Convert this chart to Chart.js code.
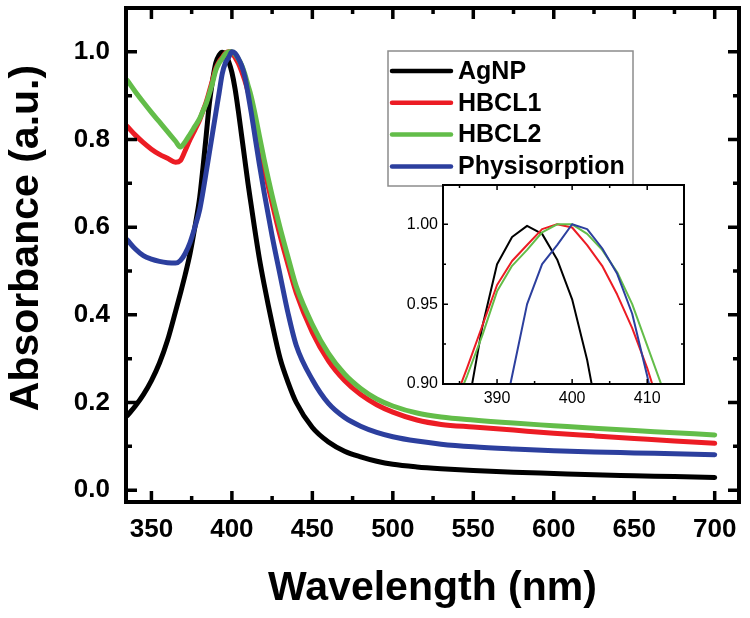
<!DOCTYPE html>
<html>
<head>
<meta charset="utf-8">
<script src="https://cdn.jsdelivr.net/npm/chart.js@4.4.0/dist/chart.umd.min.js"></script>
<style>
  html, body { margin: 0; padding: 0; background: #fff; }
  #wrap { position: relative; width: 750px; height: 618px; }
  #main { position: absolute; left: 0; top: 0; }
  #inset { position: absolute; left: 395px; top: 178px; }
</style>
</head>
<body>
<div id="wrap">
  <canvas id="main" width="750" height="618"></canvas>
  <canvas id="inset" width="300" height="235"></canvas>
</div>
<script>
//// data
const wavelength = [335, 340, 345, 350, 355, 360, 365, 368, 371, 374, 377, 380, 382, 384, 386, 388, 390, 392, 394, 396,
  398, 400, 402, 404, 406, 408, 410, 412, 414, 417, 420, 425, 430, 435, 440, 450, 460, 470, 480, 490,
  500, 515, 530, 550, 575, 600, 625, 650, 675, 700];

const agnp = [0.170, 0.192, 0.218, 0.250, 0.290, 0.342, 0.408, 0.449, 0.492, 0.540, 0.600, 0.668, 0.735, 0.808, 0.882, 0.935, 0.975, 0.992, 0.999, 0.994,
  0.978, 0.953, 0.915, 0.865, 0.810, 0.755, 0.700, 0.650, 0.600, 0.530, 0.470, 0.380, 0.300, 0.245, 0.200, 0.143, 0.110, 0.089, 0.076, 0.066,
  0.059, 0.053, 0.049, 0.045, 0.041, 0.038, 0.035, 0.033, 0.031, 0.029];

const hbcl1 = [0.830, 0.810, 0.793, 0.778, 0.766, 0.757, 0.748, 0.752, 0.775, 0.800, 0.822, 0.845, 0.865, 0.885, 0.910, 0.936, 0.962, 0.977, 0.987, 0.997,
  1.000, 0.998, 0.987, 0.974, 0.956, 0.935, 0.910, 0.880, 0.845, 0.790, 0.735, 0.655, 0.580, 0.513, 0.450, 0.360, 0.295, 0.250, 0.218, 0.195,
  0.178, 0.160, 0.150, 0.144, 0.137, 0.130, 0.124, 0.118, 0.112, 0.107];

const hbcl2 = [0.935, 0.909, 0.885, 0.862, 0.840, 0.818, 0.796, 0.783, 0.795, 0.812, 0.830, 0.848, 0.865, 0.882, 0.905, 0.930, 0.958, 0.974, 0.984, 0.995,
  1.000, 1.000, 0.994, 0.984, 0.970, 0.950, 0.924, 0.898, 0.865, 0.810, 0.755, 0.672, 0.598, 0.530, 0.465, 0.378, 0.312, 0.265, 0.232, 0.208,
  0.192, 0.176, 0.167, 0.160, 0.153, 0.147, 0.141, 0.136, 0.131, 0.126];

const physisorption = [0.571, 0.550, 0.535, 0.527, 0.522, 0.519, 0.518, 0.524, 0.540, 0.565, 0.600, 0.640, 0.680, 0.725, 0.770, 0.815, 0.860, 0.905, 0.950, 0.975,
  0.987, 1.000, 0.997, 0.985, 0.969, 0.944, 0.905, 0.862, 0.815, 0.745, 0.680, 0.580, 0.490, 0.402, 0.330, 0.252, 0.198, 0.166, 0.146, 0.132,
  0.122, 0.112, 0.105, 0.099, 0.094, 0.090, 0.087, 0.085, 0.083, 0.081];

const seriesNames = ['AgNP', 'HBCL1', 'HBCL2', 'Physisorption'];
const seriesValues = [agnp, hbcl1, hbcl2, physisorption];
const seriesColors = ['#000000', '#ec1c24', '#63bd49', '#2c3f9e'];

const xTicks = [350, 400, 450, 500, 550, 600, 650, 700];
const xMinor = [375, 425, 475, 525, 575, 625, 675];
const yTicks = [0, 0.2, 0.4, 0.6, 0.8, 1.0];
const yMinor = [0.1, 0.3, 0.5, 0.7, 0.9];

const insetXTicks = [390, 400, 410];
const insetXMinor = [385, 395, 405];
const insetYTicks = [0.90, 0.95, 1.00];
const insetYMinor = [0.925, 0.975];

const xTitle = 'Wavelength (nm)';
const yTitle = 'Absorbance (a.u.)';

const FONT = '"Liberation Sans", Arial, Helvetica, sans-serif';
Chart.defaults.font.family = FONT;
Chart.defaults.color = '#000';

function makeDatasets(width, tension) {
  return seriesValues.map((vals, i) => ({
    label: seriesNames[i],
    data: wavelength.map((w, j) => ({ x: w, y: vals[j] })),
    borderColor: seriesColors[i],
    borderWidth: width,
    pointRadius: 0,
    fill: false,
    tension: tension,
    cubicInterpolationMode: tension ? 'monotone' : 'default',
    borderCapStyle: 'round',
    borderJoinStyle: 'round',
    order: 4 - i
  }));
}

// axis boxes get a fixed size and no label overhang, so the plot frame lands where the figure has it
function fixBox(size, horizontal) {
  return s => {
    if (horizontal) s.height = size; else s.width = size;
    s.paddingTop = 0; s.paddingBottom = 0; s.paddingLeft = 0; s.paddingRight = 0;
  };
}

function drawTicks(ctx, chart, xs, ys, len) {
  const a = chart.chartArea;
  const sx = chart.scales.x, sy = chart.scales.y;
  ctx.beginPath();
  xs.forEach(v => {
    const p = sx.getPixelForValue(v);
    ctx.moveTo(p, a.bottom); ctx.lineTo(p, a.bottom - len);
    ctx.moveTo(p, a.top); ctx.lineTo(p, a.top + len);
  });
  ys.forEach(v => {
    const p = sy.getPixelForValue(v);
    ctx.moveTo(a.left, p); ctx.lineTo(a.left + len, p);
    ctx.moveTo(a.right, p); ctx.lineTo(a.right - len, p);
  });
  ctx.stroke();
}

//// main chart decorations: frame, inward ticks, titles, legend
const mainDecor = {
  id: 'mainDecor',
  afterDatasetsDraw(chart) {
    const ctx = chart.ctx, a = chart.chartArea;
    ctx.save();
    ctx.strokeStyle = '#000';
    ctx.lineWidth = 3.5;
    drawTicks(ctx, chart, xTicks, yTicks, 11);
    drawTicks(ctx, chart, xMinor, yMinor, 6);
    ctx.lineWidth = 4;
    ctx.strokeRect(a.left, a.top, a.right - a.left, a.bottom - a.top);

    ctx.fillStyle = '#000';
    ctx.font = 'bold 41px ' + FONT;
    ctx.textAlign = 'center';
    ctx.textBaseline = 'alphabetic';
    ctx.fillText(xTitle, (a.left + a.right) / 2, 600);
    ctx.save();
    ctx.translate(38, 238);
    ctx.rotate(-Math.PI / 2);
    ctx.fillText(yTitle, 0, 0);
    ctx.restore();

    // legend box
    ctx.fillStyle = '#fff';
    ctx.fillRect(388, 51, 245, 135);
    ctx.strokeStyle = '#8c8c8c';
    ctx.lineWidth = 1.5;
    ctx.strokeRect(388, 51, 245, 135);
    ctx.font = 'bold 25px ' + FONT;
    ctx.textAlign = 'left';
    ctx.textBaseline = 'middle';
    seriesNames.forEach((name, i) => {
      const yy = 71 + i * 31.8;
      ctx.strokeStyle = seriesColors[i];
      ctx.lineWidth = 4.5;
      ctx.lineCap = 'round';
      ctx.beginPath();
      ctx.moveTo(392, yy); ctx.lineTo(451, yy);
      ctx.stroke();
      ctx.fillStyle = '#000';
      ctx.fillText(name, 458, yy + 1);
    });
    ctx.restore();
  }
};

const insetDecor = {
  id: 'insetDecor',
  beforeDatasetsDraw(chart) {
    const a = chart.chartArea;
    chart.ctx.save();
    chart.ctx.fillStyle = '#fff';
    chart.ctx.fillRect(a.left, a.top, a.right - a.left, a.bottom - a.top);
    chart.ctx.restore();
  },
  afterDatasetsDraw(chart) {
    const ctx = chart.ctx, a = chart.chartArea;
    ctx.save();
    ctx.strokeStyle = '#000';
    ctx.lineWidth = 1.5;
    drawTicks(ctx, chart, insetXTicks, insetYTicks, 5);
    drawTicks(ctx, chart, insetXMinor, insetYMinor, 3);
    ctx.lineWidth = 2;
    ctx.strokeRect(a.left, a.top, a.right - a.left, a.bottom - a.top);
    ctx.restore();
  }
};

const noGrid = { display: false, drawTicks: false };

new Chart(document.getElementById('main'), {
  type: 'line',
  data: { datasets: makeDatasets(5, 0.4) },
  options: {
    responsive: false,
    animation: false,
    layout: { padding: { top: 8, right: 11, left: 0, bottom: 0 } },
    plugins: { legend: { display: false }, tooltip: { enabled: false } },
    scales: {
      x: {
        type: 'linear', min: 334.2, max: 715.1,
        grid: noGrid, border: { display: false },
        ticks: { autoSkip: false, maxRotation: 0, padding: 12, font: { size: 26, weight: 'bold' },
          callback: v => String(v) },
        afterBuildTicks: s => { s.ticks = xTicks.map(v => ({ value: v })); },
        afterFit: fixBox(116, true)
      },
      y: {
        type: 'linear', min: -0.027, max: 1.10,
        grid: noGrid, border: { display: false },
        ticks: { autoSkip: false, padding: 16, font: { size: 26, weight: 'bold' },
          callback: v => v.toFixed(1) },
        afterBuildTicks: s => { s.ticks = yTicks.map(v => ({ value: v })); },
        afterFit: fixBox(126, false)
      }
    }
  },
  plugins: [mainDecor]
});

new Chart(document.getElementById('inset'), {
  type: 'line',
  data: { datasets: makeDatasets(2, 0) },
  options: {
    responsive: false,
    animation: false,
    layout: { padding: { top: 7, right: 11, left: 0, bottom: 0 } },
    plugins: { legend: { display: false }, tooltip: { enabled: false } },
    scales: {
      x: {
        type: 'linear', min: 382.8, max: 414.9,
        grid: noGrid, border: { display: false },
        ticks: { autoSkip: false, maxRotation: 0, padding: 5, font: { size: 16 },
          callback: v => String(v) },
        afterBuildTicks: s => { s.ticks = insetXTicks.map(v => ({ value: v })); },
        afterFit: fixBox(29, true)
      },
      y: {
        type: 'linear', min: 0.90, max: 1.0246,
        grid: noGrid, border: { display: false },
        ticks: { autoSkip: false, padding: 5, font: { size: 16 },
          callback: v => v.toFixed(2) },
        afterBuildTicks: s => { s.ticks = insetYTicks.map(v => ({ value: v })); },
        afterFit: fixBox(48, false)
      }
    }
  },
  plugins: [insetDecor]
});
</script>
</body>
</html>
